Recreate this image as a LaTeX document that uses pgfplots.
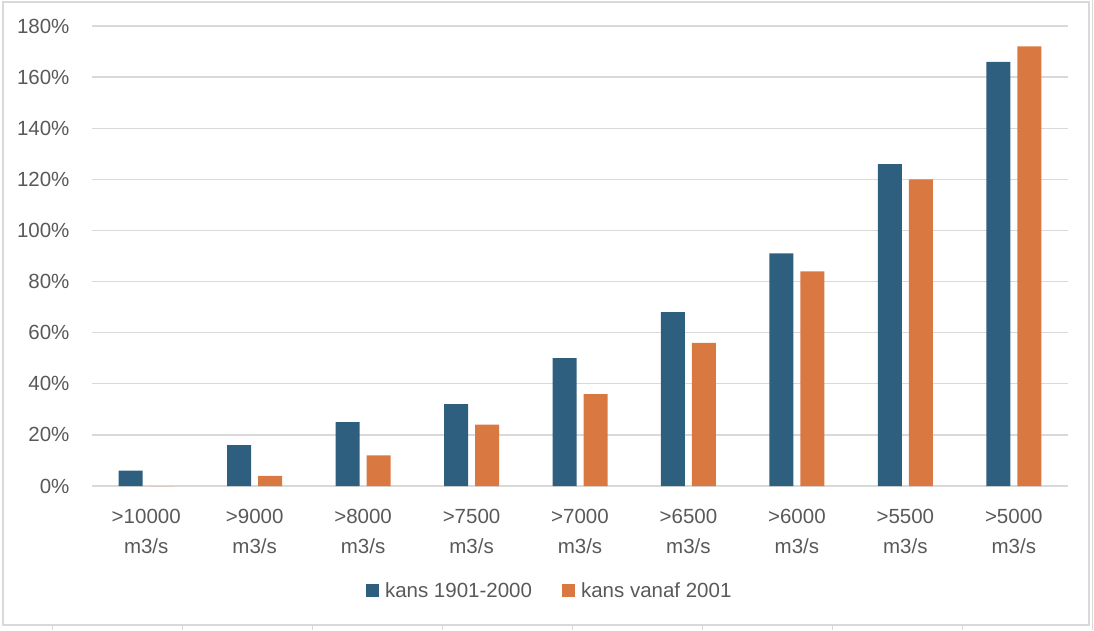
\documentclass[border=0pt]{standalone}
\usepackage{pgfplots}
\pgfplotsset{compat=1.18}
\usepackage{fontspec}
\setmainfont{Liberation Sans}

\definecolor{serblue}{HTML}{2E5F7F}
\definecolor{serorange}{HTML}{D97941}
\definecolor{txtgray}{HTML}{595959}
\definecolor{gridgray}{HTML}{D9D9D9}

\begin{document}
\begin{tikzpicture}[x=1pt,y=1pt]
    \path[use as bounding box] (0,0) rectangle (1094,630);
    % chart frame and a few sheet lines outside it
    \draw[gridgray, line width=1.4pt] (3,5) rectangle (1089,628);
    \foreach \xx in {52,182,312,442,572,702,832,962}
        \draw[gridgray, line width=1pt] (\xx,0) -- (\xx,5);
    \draw[gridgray, line width=1pt] (1092,0) -- (1092,630);

    \begin{axis}[
            at={(92pt,144pt)}, anchor=south west,
            scale only axis,
            width=976pt, height=460pt,
            ybar=7pt, bar width=24pt,
            xmin=-0.5, xmax=8.5,
            ymin=0, ymax=180,
            xtick=data,
            xticklabels={{>10000\\m3/s},{>9000\\m3/s},{>8000\\m3/s},{>7500\\m3/s},{>7000\\m3/s},{>6500\\m3/s},{>6000\\m3/s},{>5500\\m3/s},{>5000\\m3/s}},
            xticklabel style={align=center, text=txtgray, font=\fontsize{20.5}{30}\selectfont, yshift=-20pt},
            ytick={0,20,...,180},
            yticklabels={0\%,20\%,40\%,60\%,80\%,100\%,120\%,140\%,160\%,180\%},
            yticklabel style={text=txtgray, font=\fontsize{20.5}{24}\selectfont, xshift=-19pt},
            major tick length=0pt,
            ymajorgrids,
            grid style={gridgray, line width=1.3pt},
            axis line style={draw=none},
            axis x line*=bottom,
            x axis line style={draw=gridgray, line width=1.3pt, -},
            legend columns=2,
            legend style={at={(0.469,-0.228)}, anchor=center, draw=none, fill=none,
                font=\fontsize{20.5}{24}\selectfont, text=txtgray,
                /tikz/every even column/.append style={column sep=28pt},
                /tikz/every odd column/.append style={column sep=4pt}},
            legend image code/.code={\fill[#1, draw=none] (0pt,-6.5pt) rectangle (13pt,6.5pt);},
        ]
        \addplot[fill=serblue, draw=none] coordinates {
                (0,6) (1,16) (2,25) (3,32) (4,50) (5,68) (6,91) (7,126) (8,166)
            };
        \addlegendentry{kans 1901-2000}
        \addplot[fill=serorange, draw=none] coordinates {
                (0,0) (1,4) (2,12) (3,24) (4,36) (5,56) (6,84) (7,120) (8,172)
            };
        \addlegendentry{kans vanaf 2001}
    \end{axis}
\end{tikzpicture}
\end{document}
